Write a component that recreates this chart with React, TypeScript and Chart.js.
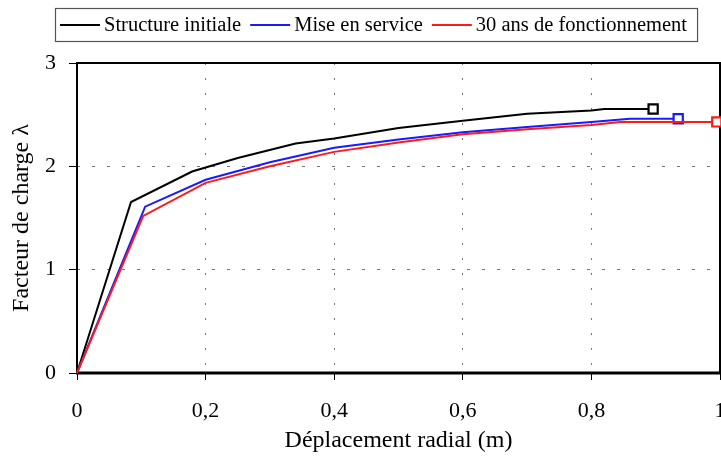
import React, { useEffect, useRef } from "react";
import { Chart, registerables } from "chart.js";

Chart.register(...registerables);

// ---- Data ----
const seriesLabels = ["Structure initiale", "Mise en service", "30 ans de fonctionnement"];
const seriesColors = ["#000000", "#1a1aff", "#ff1a1a"];

const initX = [0, 0.084, 0.179, 0.25, 0.34, 0.4, 0.5, 0.6, 0.7, 0.8, 0.82, 0.896];
const initY = [0, 1.655, 1.95, 2.08, 2.22, 2.27, 2.37, 2.44, 2.51, 2.54, 2.555, 2.555];

const serviceX = [0, 0.106, 0.2, 0.3, 0.4, 0.5, 0.6, 0.7, 0.8, 0.86, 0.935];
const serviceY = [0, 1.61, 1.87, 2.04, 2.18, 2.26, 2.33, 2.38, 2.43, 2.46, 2.46];

const ansX = [0, 0.103, 0.2, 0.3, 0.4, 0.5, 0.6, 0.7, 0.8, 0.845, 0.995];
const ansY = [0, 1.52, 1.84, 2.0, 2.14, 2.23, 2.31, 2.36, 2.4, 2.43, 2.43];

const xTickLabels = ["0", "0,2", "0,4", "0,6", "0,8", "1"];
const yTickLabels = ["0", "1", "2", "3"];
const xTitle = "Déplacement radial (m)";
const yTitle = "Facteur de charge λ";

const FONT = "'Liberation Serif', 'Times New Roman', serif";

const toPoints = (xs: number[], ys: number[]) => xs.map((x, i) => ({ x, y: ys[i] }));

const framePlugin = {
  id: "frame",
  beforeDatasetsDraw(chart: any) {
    const { ctx, chartArea } = chart;
    ctx.save();
    ctx.strokeStyle = "#000";
    ctx.lineWidth = 2;
    ctx.strokeRect(chartArea.left, chartArea.top, chartArea.right - chartArea.left, chartArea.bottom - chartArea.top);
    ctx.beginPath();
    ctx.lineWidth = 3;
    ctx.moveTo(chartArea.left - 1, chartArea.bottom);
    ctx.lineTo(chartArea.right + 1, chartArea.bottom);
    ctx.stroke();
    ctx.restore();
  },
};

const legendPlugin = {
  id: "boxLegend",
  afterDraw(chart: any) {
    const ctx = chart.ctx;
    const items = chart.data.datasets.map((d: any) => ({ text: d.label, color: d.borderColor }));
    ctx.save();
    ctx.font = `20.5px ${FONT}`;
    const lineLen = 40, gapText = 4, gapItem = 9, padL = 5, padR = 10;
    const widths = items.map((it: any) => lineLen + gapText + ctx.measureText(it.text).width);
    const total = widths.reduce((a: number, b: number) => a + b, 0) + gapItem * (items.length - 1) + padL + padR;
    const cx = 376.5;
    const boxTop = 8, boxH = 33;
    const left = Math.round(cx - total / 2);
    ctx.fillStyle = "#fff";
    ctx.fillRect(left, boxTop, total, boxH);
    ctx.strokeStyle = "#555";
    ctx.lineWidth = 1.2;
    ctx.strokeRect(left + 0.5, boxTop + 0.5, total, boxH);
    let x = left + padL;
    const cy = boxTop + boxH / 2 + 0.5;
    items.forEach((it: any, i: number) => {
      ctx.strokeStyle = it.color;
      ctx.lineWidth = 2;
      ctx.beginPath();
      ctx.moveTo(x, cy);
      ctx.lineTo(x + lineLen, cy);
      ctx.stroke();
      ctx.fillStyle = "#000";
      ctx.textBaseline = "middle";
      ctx.textAlign = "left";
      ctx.fillText(it.text, x + lineLen + gapText, cy + 1);
      x += widths[i] + gapItem;
    });
    ctx.restore();
  },
};

export default function App() {
  const ref = useRef<HTMLCanvasElement>(null);

  useEffect(() => {
    if (!ref.current) return;
    const xs = [initX, serviceX, ansX];
    const ys = [initY, serviceY, ansY];
    const datasets = seriesLabels.map((label, k) => {
      const n = xs[k].length;
      return {
        label,
        data: toPoints(xs[k], ys[k]),
        borderColor: seriesColors[k],
        backgroundColor: seriesColors[k],
        borderWidth: 2,
        tension: 0,
        clip: false as any,
        order: 2 - k,
        pointStyle: "rect" as any,
        pointRadius: (c: any) => (c.dataIndex === n - 1 ? 6.5 : 0),
        pointHoverRadius: 0,
        pointBorderWidth: 2.2,
        pointBorderColor: seriesColors[k],
        pointBackgroundColor: "#fff",
      };
    });

    const chart = new Chart(ref.current, {
      type: "line",
      data: { datasets },
      options: {
        animation: false,
        responsive: false,
        layout: { autoPadding: false, padding: { top: 63, right: 1, bottom: 0, left: 0 } },
        plugins: { legend: { display: false }, tooltip: { enabled: false } },
        scales: {
          x: {
            type: "linear",
            min: 0,
            max: 1,
            afterFit(scale: any) {
              scale.height = 87;
              scale.paddingLeft = 0;
              scale.paddingRight = 0;
            },
            ticks: {
              stepSize: 0.2,
              color: "#000",
              padding: 18,
              font: { family: FONT, size: 22 },
              callback: (_v: any, i: number) => xTickLabels[i],
            },
            grid: {
              color: "#777",
              lineWidth: 1,
              tickLength: 7,
              tickColor: "#000",
              tickWidth: 1,
              tickBorderDash: [],
            } as any,
            border: { display: false, dash: [2, 13] },
            title: {
              display: true,
              text: xTitle,
              color: "#000",
              font: { family: FONT, size: 24 },
              padding: { top: 0, bottom: 5 },
            },
          },
          y: {
            type: "linear",
            min: 0,
            max: 3,
            afterFit(scale: any) {
              scale.width = 77;
              scale.paddingTop = 0;
              scale.paddingBottom = 0;
            },
            ticks: {
              stepSize: 1,
              color: "#000",
              padding: 13,
              font: { family: FONT, size: 22 },
              callback: (_v: any, i: number) => yTickLabels[i],
            },
            grid: {
              color: "#777",
              lineWidth: 1,
              tickLength: 8,
              tickColor: "#000",
              tickWidth: 1,
              tickBorderDash: [],
            } as any,
            border: { display: false, dash: [3, 12] },
            title: {
              display: true,
              text: yTitle,
              color: "#000",
              font: { family: FONT, size: 24 },
              padding: { top: 7, bottom: 0 },
            },
          },
        },
      },
      plugins: [framePlugin, legendPlugin],
    });
    return () => chart.destroy();
  }, []);

  return (
    <div style={{ position: "fixed", left: 0, top: 0, width: 721, height: 460, background: "#fff" }}>
      <canvas ref={ref} width={721} height={460} style={{ display: "block" }} />
    </div>
  );
}
